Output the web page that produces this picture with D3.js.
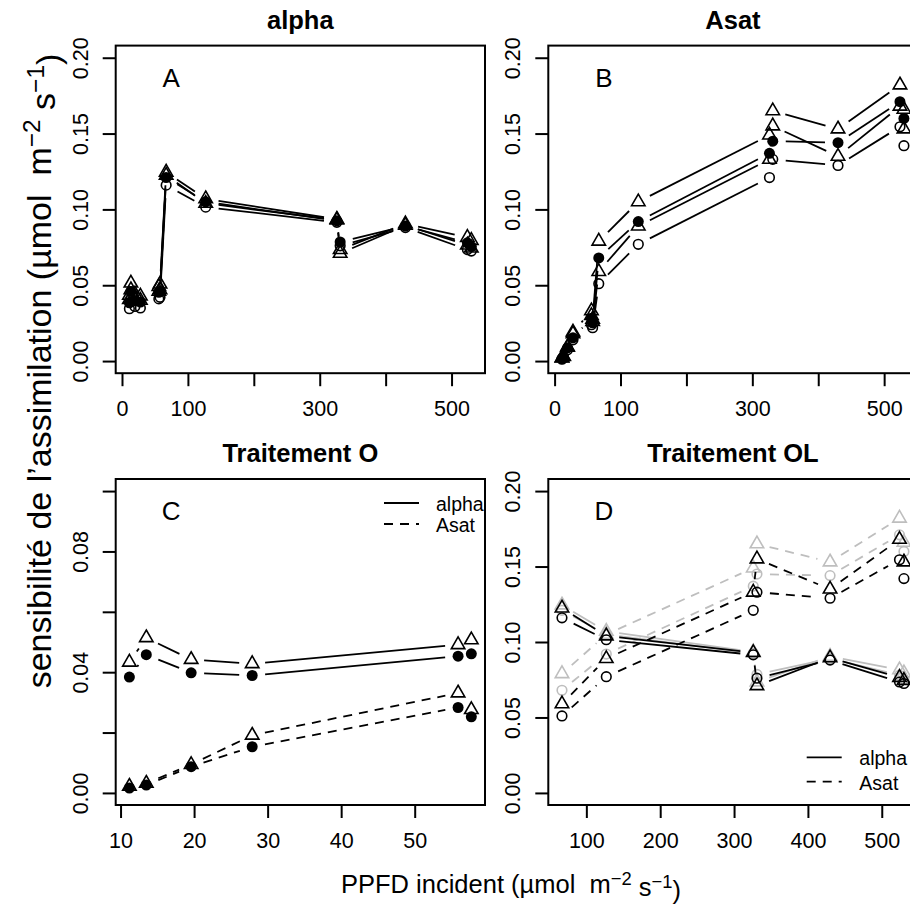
<!DOCTYPE html>
<html>
<head>
<meta charset="utf-8">
<script src="https://cdn.jsdelivr.net/npm/d3@7"></script>
<style>
  body { margin: 0; background: #fff; }
  svg { display: block; }
</style>
</head>
<body>
<svg id="chart" width="910" height="914"></svg>
<script>
// PPFD incident levels (µmol m-2 s-1) for the two treatments
const ppfdO  = [11.2, 13.5, 19.6, 27.9, 55.9, 57.7];
const ppfdOL = [67, 127, 326, 331, 430, 524, 530];

// sensitivity of assimilation to alpha, four series per treatment
const alphaO1  = [0.0433, 0.0514, 0.0442, 0.0428, 0.0491, 0.0507];
const alphaO2  = [0.0384, 0.0458, 0.0398, 0.0389, 0.0453, 0.0461];
const alphaO3  = [0.0405, 0.0470, 0.0410, 0.0400, 0.0460, 0.0470];
const alphaO4  = [0.0345, 0.0410, 0.0360, 0.0350, 0.0410, 0.0420];
const alphaOL1 = [0.1245, 0.1070, 0.0935, 0.0735, 0.0905, 0.0815, 0.0795];
const alphaOL2 = [0.1210, 0.1050, 0.0925, 0.0785, 0.0890, 0.0780, 0.0755];
const alphaOL3 = [0.1225, 0.1040, 0.0930, 0.0710, 0.0895, 0.0765, 0.0745];
const alphaOL4 = [0.1160, 0.1015, 0.0915, 0.0760, 0.0880, 0.0735, 0.0725];

// sensitivity of assimilation to Asat, same four series
const asatO1  = [0.0022, 0.0032, 0.0094, 0.0191, 0.0331, 0.0276];
const asatO2  = [0.0016, 0.0026, 0.0087, 0.0153, 0.0283, 0.0252];
const asatO3  = [0.0020, 0.0030, 0.0090, 0.0180, 0.0300, 0.0260];
const asatO4  = [0.0012, 0.0022, 0.0075, 0.0140, 0.0240, 0.0220];
const asatOL1 = [0.0790, 0.1050, 0.1490, 0.1650, 0.1530, 0.1820, 0.1660];
const asatOL2 = [0.0680, 0.0920, 0.1370, 0.1450, 0.1440, 0.1710, 0.1600];
const asatOL3 = [0.0590, 0.0890, 0.1330, 0.1550, 0.1350, 0.1680, 0.1530];
const asatOL4 = [0.0510, 0.0770, 0.1210, 0.1330, 0.1290, 0.1545, 0.1420];

// axis ticks and their labels (blank = tick without label)
const ticksWideX  = [0, 100, 200, 300, 400, 500];
const labelsWideX = ["0", "100", "", "300", "", "500"];
const ticksY      = [0, 0.05, 0.10, 0.15, 0.20];
const labelsY     = ["0.00", "0.05", "0.10", "0.15", "0.20"];
const ticksOX     = [10, 20, 30, 40, 50];
const labelsOX    = ["10", "20", "30", "40", "50"];
const ticksOY     = [0, 0.02, 0.04, 0.06, 0.08, 0.10];
const labelsOY    = ["0.00", "", "0.04", "", "0.08", ""];
const ticksOLX    = [100, 200, 300, 400, 500];
const labelsOLX   = ["100", "200", "300", "400", "500"];

const panelTitles  = ["alpha", "Asat", "Traitement O", "Traitement OL"];
const panelLetters = ["A", "B", "C", "D"];
const legendLabels = ["alpha", "Asat"];

// ---------------------------------------------------------------------
const FONT = '"Liberation Sans", Arial, Helvetica, sans-serif';
const BLACK = "#000000", GREY = "#bebebe";
const GAP = 13;      // gap left around each point by the connecting lines
const RAD = 5;       // symbol radius
const LW = 1.8;      // line width of the series
const TICK = 13;
const DASH = "9,7";

const svg = d3.select("#chart");

function padded(lo, hi) { const d = (hi - lo) * 0.04; return [lo - d, hi + d]; }

function symbol(g, shape, color, cx, cy) {
  if (shape === "tri") {
    const r = 1.5551 * RAD, yc = 0.7776 * RAD, xc = 1.3468 * RAD;
    g.append("path")
      .attr("d", `M${cx},${cy - r}L${cx + xc},${cy + yc}L${cx - xc},${cy + yc}Z`)
      .attr("fill", "none").attr("stroke", color).attr("stroke-width", 1.6)
      .attr("stroke-linejoin", "miter");
  } else if (shape === "dot") {
    g.append("circle").attr("cx", cx).attr("cy", cy).attr("r", RAD + 0.5).attr("fill", color);
  } else {
    g.append("circle").attr("cx", cx).attr("cy", cy).attr("r", RAD - 0.2)
      .attr("fill", "none").attr("stroke", color).attr("stroke-width", 1.6);
  }
}

const allX = ppfdO.concat(ppfdOL);
const boxL = [115.7, 548.3], boxR = [485, 917.6];
const rowTop = [45.6, 479], rowBot = [373.2, 805];

const panels = [
  { title: panelTitles[0], letter: panelLetters[0], col: 0, row: 0,
    xdom: padded(d3.min(allX), d3.max(allX)), ydom: padded(0, 0.2),
    xt: ticksWideX, xl: labelsWideX, yt: ticksY, yl: labelsY,
    series: [
      { x: allX, y: alphaO4.concat(alphaOL4), shape: "circle", color: BLACK, dash: false },
      { x: allX, y: alphaO3.concat(alphaOL3), shape: "tri", color: BLACK, dash: false },
      { x: allX, y: alphaO2.concat(alphaOL2), shape: "dot", color: BLACK, dash: false },
      { x: allX, y: alphaO1.concat(alphaOL1), shape: "tri", color: BLACK, dash: false }
    ] },
  { title: panelTitles[1], letter: panelLetters[1], col: 1, row: 0,
    xdom: padded(d3.min(allX), d3.max(allX)), ydom: padded(0, 0.2),
    xt: ticksWideX, xl: labelsWideX, yt: ticksY, yl: labelsY,
    series: [
      { x: allX, y: asatO4.concat(asatOL4), shape: "circle", color: BLACK, dash: false },
      { x: allX, y: asatO3.concat(asatOL3), shape: "tri", color: BLACK, dash: false },
      { x: allX, y: asatO2.concat(asatOL2), shape: "dot", color: BLACK, dash: false },
      { x: allX, y: asatO1.concat(asatOL1), shape: "tri", color: BLACK, dash: false }
    ] },
  { title: panelTitles[2], letter: panelLetters[2], col: 0, row: 1,
    xdom: padded(d3.min(ppfdO), d3.max(ppfdO)), ydom: padded(0, 0.1),
    xt: ticksOX, xl: labelsOX, yt: ticksOY, yl: labelsOY,
    legend: { x1: 384, x2: 419, tx: 436, y: [503, 524] },
    series: [
      { x: ppfdO, y: alphaO2, shape: "dot", color: BLACK, dash: false },
      { x: ppfdO, y: alphaO1, shape: "tri", color: BLACK, dash: false },
      { x: ppfdO, y: asatO2, shape: "dot", color: BLACK, dash: true },
      { x: ppfdO, y: asatO1, shape: "tri", color: BLACK, dash: true }
    ] },
  { title: panelTitles[3], letter: panelLetters[3], col: 1, row: 1,
    xdom: padded(d3.min(ppfdOL), d3.max(ppfdOL)), ydom: padded(0, 0.2),
    xt: ticksOLX, xl: labelsOLX, yt: ticksY, yl: labelsY,
    legend: { x1: 806.7, x2: 841.7, tx: 859.3, y: [757.3, 781.7] },
    series: [
      { x: ppfdOL, y: asatOL1, shape: "tri", color: GREY, dash: true },
      { x: ppfdOL, y: asatOL2, shape: "circle", color: GREY, dash: true },
      { x: ppfdOL, y: alphaOL1, shape: "tri", color: GREY, dash: false },
      { x: ppfdOL, y: alphaOL2, shape: "circle", color: GREY, dash: false },
      { x: ppfdOL, y: asatOL3, shape: "tri", color: BLACK, dash: true },
      { x: ppfdOL, y: asatOL4, shape: "circle", color: BLACK, dash: true },
      { x: ppfdOL, y: alphaOL3, shape: "tri", color: BLACK, dash: false },
      { x: ppfdOL, y: alphaOL4, shape: "circle", color: BLACK, dash: false }
    ] }
];

panels.forEach(p => {
  const left = boxL[p.col], right = boxR[p.col], top = rowTop[p.row], bottom = rowBot[p.row];
  const x = d3.scaleLinear().domain(p.xdom).range([left, right]);
  const y = d3.scaleLinear().domain(p.ydom).range([bottom, top]);
  const g = svg.append("g");

  // series drawn as points joined by broken lines
  p.series.forEach(s => {
    const pts = s.x.map((v, i) => [x(v), y(s.y[i])]);
    for (let i = 0; i < pts.length - 1; i++) {
      const [x1, y1] = pts[i], [x2, y2] = pts[i + 1];
      const dx = x2 - x1, dy = y2 - y1, d = Math.hypot(dx, dy);
      if (d <= 2 * GAP) continue;
      const ux = dx / d, uy = dy / d;
      g.append("line")
        .attr("x1", x1 + ux * GAP).attr("y1", y1 + uy * GAP)
        .attr("x2", x2 - ux * GAP).attr("y2", y2 - uy * GAP)
        .attr("stroke", s.color).attr("stroke-width", LW)
        .attr("stroke-dasharray", s.dash ? DASH : null);
    }
    pts.forEach(([px, py]) => symbol(g, s.shape, s.color, px, py));
  });

  // frame
  g.append("rect").attr("x", left).attr("y", top)
    .attr("width", right - left).attr("height", bottom - top)
    .attr("fill", "none").attr("stroke", BLACK).attr("stroke-width", 2);

  // bottom axis
  g.append("g").attr("transform", `translate(0,${bottom})`)
    .call(d3.axisBottom(x).tickValues(p.xt).tickSize(TICK).tickPadding(15)
      .tickFormat((d, i) => p.xl[i]))
    .call(a => {
      a.select(".domain").remove();
      a.attr("font-family", FONT).attr("font-size", 21.5);
      a.selectAll(".tick line").attr("stroke", BLACK).attr("stroke-width", 2);
      a.selectAll(".tick text").attr("fill", BLACK);
    });

  // left axis, labels parallel to the axis
  g.append("g").attr("transform", `translate(${left},0)`)
    .call(d3.axisLeft(y).tickValues(p.yt).tickSize(TICK).tickFormat((d, i) => p.yl[i]))
    .call(a => {
      a.select(".domain").remove();
      a.attr("font-family", FONT).attr("font-size", 21.5);
      a.selectAll(".tick line").attr("stroke", BLACK).attr("stroke-width", 2);
      a.selectAll(".tick text").attr("fill", BLACK)
        .attr("x", null).attr("dy", null)
        .attr("text-anchor", "middle")
        .attr("transform", "translate(-28,0) rotate(-90)");
    });

  // panel title and letter
  g.append("text").attr("x", (left + right) / 2).attr("y", top - 17)
    .attr("text-anchor", "middle").attr("font-family", FONT)
    .attr("font-weight", "bold").attr("font-size", 25.5).text(p.title);
  g.append("text").attr("x", left + 55.5).attr("y", top + 41)
    .attr("text-anchor", "middle").attr("font-family", FONT)
    .attr("font-size", 26).text(p.letter);

  // legend
  if (p.legend) {
    const L = p.legend;
    legendLabels.forEach((lab, i) => {
      g.append("line").attr("x1", L.x1).attr("x2", L.x2)
        .attr("y1", L.y[i]).attr("y2", L.y[i])
        .attr("stroke", BLACK).attr("stroke-width", LW)
        .attr("stroke-dasharray", i === 1 ? DASH : null);
      g.append("text").attr("x", L.tx).attr("y", L.y[i] + 8)
        .attr("font-family", FONT).attr("font-size", 19.5).text(lab);
    });
  }
});

// unit label with superscripts
function unitText(sel, prefix) {
  sel.style("white-space", "pre");
  sel.append("tspan").text(prefix + "(µmol  m");
  sel.append("tspan").attr("dy", "-0.45em").attr("font-size", "0.72em").text("\u22122");
  sel.append("tspan").attr("dy", "0.45em").text(" s");
  sel.append("tspan").attr("dy", "-0.45em").attr("font-size", "0.72em").text("\u22121");
  sel.append("tspan").attr("dy", "0.45em").text(")");
}

svg.append("text").attr("x", 511).attr("y", 893)
  .attr("text-anchor", "middle").attr("font-family", FONT).attr("font-size", 25.5)
  .call(unitText, "PPFD incident ");

svg.append("text").attr("transform", "translate(51,371) rotate(-90)")
  .attr("text-anchor", "middle").attr("font-family", FONT).attr("font-size", 34)
  .call(unitText, "sensibilité de l\u2019assimilation ");
</script>
</body>
</html>
